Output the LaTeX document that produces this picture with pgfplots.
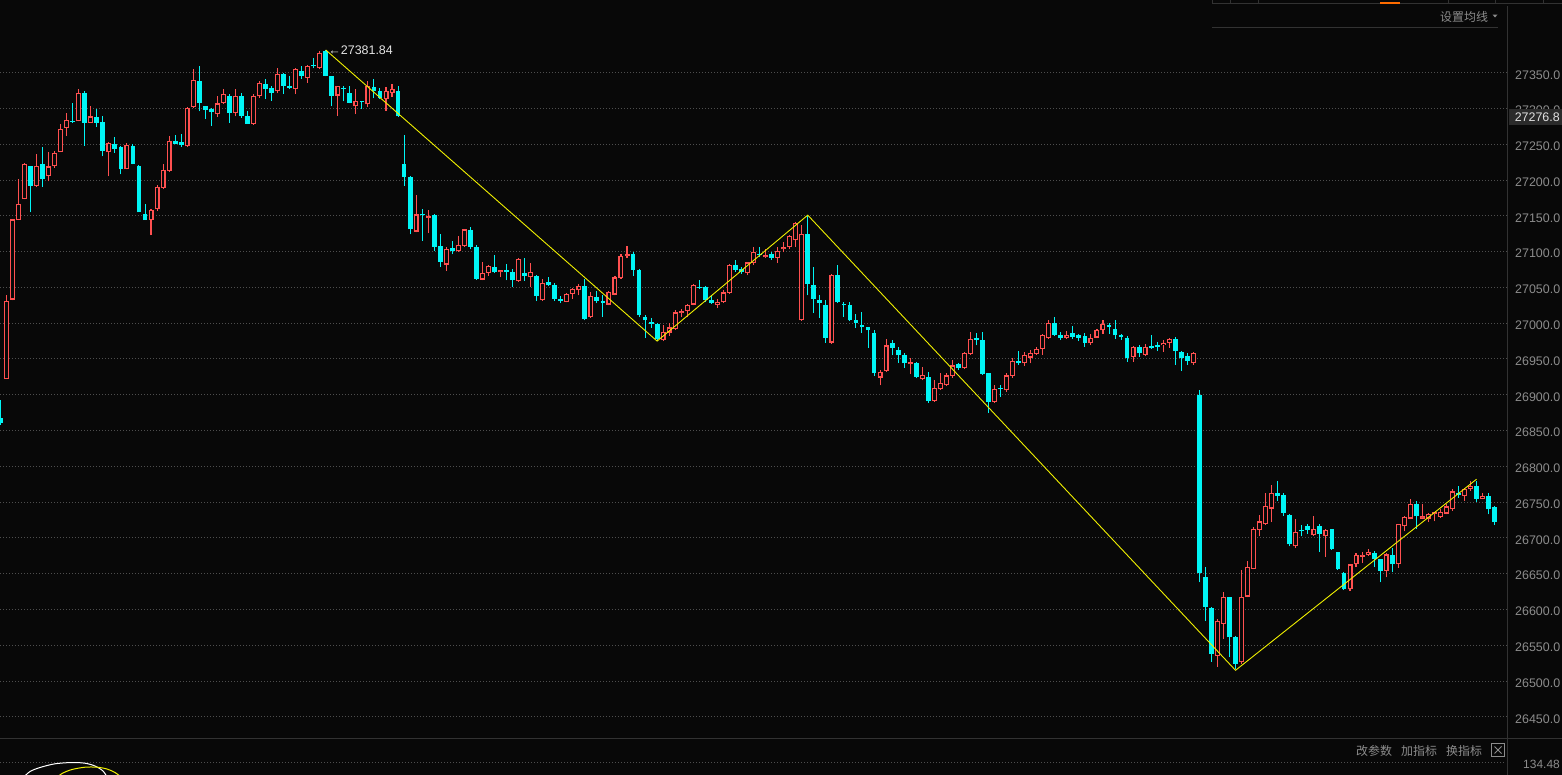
\documentclass[border=0pt]{standalone}
\usepackage{fontspec}
\setmainfont{Liberation Sans}
\newfontfamily\cjk{Noto Sans CJK SC}
\usepackage{pgfplots}
\pgfplotsset{compat=1.18}
\usepackage{pgfplotstable}

\definecolor{bg}{RGB}{8,8,8}
\definecolor{upc}{RGB}{255,80,80}
\definecolor{dnc}{RGB}{0,245,245}
\definecolor{gridc}{RGB}{78,78,78}
\definecolor{lblc}{RGB}{140,140,140}
\definecolor{sepc}{RGB}{50,50,50}
\definecolor{zig}{RGB}{240,240,0}

% red (up) candles: index open high low close
\pgfplotstableread{
i O H L C
1 26922 27040 26922 27031
2 27033 27145 27032 27145
3 27144 27201 27144 27167
4 27174 27224 27173 27223
6 27192 27237 27191 27220
8 27205 27239 27198 27219
9 27220 27240 27217 27238
10 27239 27279 27239 27272
11 27273 27294 27262 27284
13 27282 27327 27282 27322
15 27280 27303 27280 27289
18 27239 27253 27205 27252
21 27215 27252 27215 27249
25 27144 27159 27123 27158
26 27159 27193 27157 27191
27 27189 27223 27187 27214
28 27212 27261 27211 27255
31 27247 27302 27246 27301
32 27302 27355 27301 27340
36 27292 27317 27288 27307
37 27308 27327 27306 27320
39 27294 27327 27289 27317
42 27278 27320 27277 27318
43 27317 27338 27315 27336
46 27324 27356 27321 27348
49 27327 27356 27320 27355
51 27343 27361 27336 27360
53 27356 27380 27355 27378
56 27318 27332 27290 27331
59 27303 27327 27292 27311
61 27306 27339 27302 27331
64 27313 27330 27297 27324
65 27322 27334 27316 27327
69 27128 27179 27127 27152
71 27147 27158 27126 27150
74 27082 27106 27073 27104
76 27101 27122 27100 27109
77 27108 27132 27107 27131
80 27061 27086 27060 27070
81 27070 27081 27066 27080
83 27071 27074 27064 27073
86 27059 27091 27058 27090
88 27064 27084 27050 27072
90 27032 27062 27031 27056
94 27030 27042 27029 27041
95 27041 27049 27034 27048
96 27046 27055 27039 27052
98 27009 27044 27007 27038
101 27026 27045 27025 27044
102 27040 27066 27039 27064
103 27063 27096 27062 27094
104 27094 27108 27091 27096
110 26976 26998 26975 26988
111 26987 27000 26982 26994
112 26992 27018 26991 27015
113 27014 27020 27008 27016
114 27017 27027 27008 27025
115 27026 27055 27025 27054
119 27026 27034 27021 27030
120 27029 27046 27028 27043
121 27042 27083 27041 27081
124 27070 27086 27067 27085
125 27084 27107 27081 27100
127 27092 27104 27091 27095
129 27091 27106 27084 27101
130 27103 27113 27099 27105
131 27106 27123 27104 27122
132 27116 27141 27107 27140
133 27004 27137 27003 27125
138 26973 27069 26971 27067
146 26924 26935 26913 26932
147 26933 26978 26932 26969
151 26943 26951 26929 26946
153 26922 26939 26920 26928
155 26891 26921 26890 26909
156 26908 26930 26907 26916
157 26913 26931 26912 26927
158 26926 26949 26924 26941
160 26937 26960 26936 26959
161 26957 26988 26956 26978
165 26890 26914 26889 26908
167 26906 26930 26904 26927
168 26926 26952 26924 26947
170 26944 26960 26940 26956
171 26952 26963 26944 26958
172 26957 26967 26956 26964
173 26964 26985 26956 26984
174 26979 27005 26978 27000
177 26979 26989 26978 26984
181 26972 26985 26970 26980
182 26980 26992 26979 26991
183 26990 27005 26985 26999
188 26953 26968 26946 26967
190 26956 26971 26954 26967
193 26969 26977 26960 26973
194 26972 26980 26966 26978
198 26944 26960 26942 26958
202 26535 26587 26520 26584
203 26580 26625 26559 26617
206 26526 26655 26524 26618
207 26618 26668 26617 26660
208 26657 26715 26656 26713
209 26711 26732 26702 26723
210 26719 26763 26718 26745
211 26741 26774 26722 26763
215 26688 26727 26686 26708
218 26704 26730 26703 26713
220 26702 26713 26674 26711
224 26628 26664 26626 26663
225 26663 26679 26659 26676
226 26674 26680 26665 26676
227 26676 26684 26675 26680
230 26654 26679 26645 26677
232 26663 26720 26658 26719
233 26716 26730 26709 26729
234 26727 26754 26726 26748
236 26727 26747 26726 26730
237 26727 26735 26722 26734
238 26733 26736 26723 26735
239 26729 26741 26728 26736
240 26734 26747 26733 26744
241 26740 26768 26738 26765
243 26759 26770 26752 26768
244 26768 26780 26766 26773
246 26755 26763 26754 26759
}\up

% cyan (down) candles: index open high low close
\pgfplotstableread{
i O H L C
0 26868 26892 26858 26860
5 27219 27220 27155 27192
7 27223 27246 27190 27201
12 27282 27308 27280 27281
14 27321 27324 27248 27280
16 27288 27299 27274 27280
17 27281 27290 27233 27241
19 27250 27260 27238 27244
20 27246 27247 27208 27215
22 27248 27251 27222 27223
23 27220 27221 27155 27155
24 27153 27166 27144 27144
29 27255 27263 27250 27251
30 27253 27265 27246 27249
33 27339 27359 27296 27308
34 27303 27304 27285 27298
35 27299 27300 27276 27295
38 27318 27320 27280 27294
40 27317 27322 27287 27290
41 27289 27296 27279 27279
44 27334 27341 27313 27327
45 27328 27332 27311 27322
47 27348 27349 27320 27332
48 27331 27345 27327 27329
50 27353 27359 27341 27346
52 27361 27370 27356 27359
54 27380 27381.84 27345 27346
55 27345 27346 27303 27318
57 27329 27332 27310 27327
58 27321 27332 27307 27308
60 27311 27311 27299 27309
62 27330 27341 27314 27325
63 27324 27328 27313 27314
66 27325 27331 27288 27289
67 27222 27263 27192 27204
68 27204 27205 27124 27131
70 27153 27160 27115 27151
72 27151 27153 27101 27107
73 27108 27125 27079 27086
75 27105 27115 27096 27101
78 27130 27134 27103 27107
79 27106 27109 27061 27062
82 27079 27095 27070 27071
84 27074 27083 27060 27071
85 27071 27076 27050 27060
87 27070 27091 27059 27066
89 27066 27067 27031 27038
91 27058 27064 27052 27053
92 27053 27056 27031 27034
93 27034 27038 27028 27031
97 27052 27062 27004 27006
99 27037 27045 27028 27031
100 27031 27040 27009 27028
105 27096 27099 27066 27075
106 27075 27076 27008 27011
107 27009 27011 26979 27004
108 27001 27007 26993 26999
109 26999 27000 26975 26978
116 27051 27060 27048 27049
117 27051 27052 27029 27033
118 27032 27040 27027 27028
122 27081 27088 27072 27075
123 27076 27079 27069 27071
126 27097 27107 27092 27095
128 27096 27100 27089 27091
134 27125 27151 27039 27055
135 27054 27078 27014 27034
136 27033 27039 27007 27028
137 27026 27032 26973 26980
139 27068 27081 27028 27029
140 27026 27029 27009 27025
141 27025 27030 27003 27004
142 27005 27013 26993 27000
143 26998 27016 26987 26994
144 26994 26995 26966 26990
145 26987 26991 26926 26930
148 26972 26976 26955 26966
149 26962 26967 26945 26955
150 26956 26959 26938 26944
152 26945 26946 26923 26925
154 26925 26932 26889 26891
159 26943 26945 26935 26938
162 26979 26987 26969 26977
163 26977 26988 26928 26929
164 26930 26931 26875 26890
166 26910 26914 26897 26908
169 26947 26961 26942 26944
175 27000 27009 26982 26984
176 26983 26988 26977 26980
178 26987 26996 26978 26981
179 26983 26985 26975 26980
180 26982 26987 26967 26973
184 26998 27000 26985 26994
185 26992 27005 26978 26983
186 26984 26985 26977 26981
187 26980 26982 26946 26952
189 26967 26970 26953 26958
191 26968 26984 26964 26966
192 26969 26974 26961 26967
195 26978 26981 26942 26961
196 26960 26961 26933 26951
197 26954 26958 26942 26947
199 26900 26906 26638 26651
200 26646 26659 26584 26604
201 26602 26603 26527 26538
204 26617 26618 26533 26561
205 26561 26563 26517 26524
212 26763 26780 26752 26759
213 26760 26763 26731 26735
214 26732 26733 26688 26691
216 26711 26718 26702 26709
217 26716 26719 26706 26711
219 26716 26719 26680 26706
221 26712 26713 26683 26684
222 26680 26681 26655 26656
223 26651 26652 26627 26628
228 26679 26682 26659 26670
229 26670 26671 26638 26654
231 26676 26686 26652 26663
235 26747 26751 26713 26730
242 26763 26772 26756 26760
245 26773 26779 26750 26755
247 26759 26763 26733 26740
248 26743 26744 26718 26722
}\dn

\begin{document}
\begin{tikzpicture}
\fill[bg] (0,0) rectangle (1562bp,-775bp);
\begin{axis}[
  name=main, at={(0,0)}, anchor=north west,
  scale only axis, width=1507bp, height=775bp,
  xmin=-0.0664, xmax=250.06, ymin=26368.7, ymax=27451.6,
  axis line style={draw=none},
  xtick=\empty,
  ytick={26450,26500,26550,26600,26650,26700,26750,26800,26850,26900,26950,27000,27050,27100,27150,27200,27250,27300,27350},
  scaled y ticks=false,
  major tick length=0pt,
  ymajorgrids,
  grid style={gridc, line width=1bp, dash pattern=on 1bp off 2bp},
  yticklabel pos=right,
  yticklabel style={font=\fontsize{12.5}{14}\selectfont, text=lblc, inner sep=0pt, xshift=8bp, yshift=-2bp,
    /pgf/number format/.cd, fixed, fixed zerofill, precision=1, 1000 sep={}, assume math mode=true},
  clip=true,
]
% cyan wicks
\addplot[draw=none, forget plot, error bars/.cd, y dir=plus, y explicit, error mark=none,
  error bar style={draw=dnc, line width=1bp}]
  table[x=i, y=L, y error expr={\thisrow{H}-\thisrow{L}}] {\dn};
% cyan bodies
\addplot[draw=none, forget plot, error bars/.cd, y dir=plus, y explicit, error mark=none,
  error bar style={draw=dnc, line width=4.8bp}]
  table[x=i, y=C, y error expr={max(\thisrow{O}-\thisrow{C},1.4)}] {\dn};
% red wicks
\addplot[draw=none, forget plot, error bars/.cd, y dir=plus, y explicit, error mark=none,
  error bar style={draw=upc, line width=1.1bp}]
  table[x=i, y=L, y error expr={\thisrow{H}-\thisrow{L}}] {\up};
% red bodies (outline)
\addplot[draw=none, forget plot, error bars/.cd, y dir=plus, y explicit, error mark=none,
  error bar style={draw=upc, line width=5bp}]
  table[x=i, y=O, y error expr={max(\thisrow{C}-\thisrow{O},2.8)}] {\up};
% red bodies (hollow inside)
\addplot[draw=none, forget plot, error bars/.cd, y dir=plus, y explicit, error mark=none,
  error bar style={draw=bg, line width=2.6bp}]
  table[x=i, y expr={\thisrow{O}+1.6}, y error expr={max(\thisrow{C}-\thisrow{O}-3.2,0.01)}] {\up};
% zigzag
\addplot[zig, line width=0.9bp, forget plot] coordinates {
  (54,27381.84) (109,26975) (134,27151) (205,26515) (245,26782)};
\node[anchor=west, inner sep=0pt, text=white!90!black, font=\fontsize{12.5}{14}\selectfont, yshift=-0.5bp]
  at (axis cs:54,27381.84) [xshift=2.5bp] {←27381.84};
\end{axis}
\begin{scope}[x=1bp, y=-1bp]
  % top tabs
  \draw[sepc, line width=1bp] (1212,3.5) -- (1562,3.5);
  \foreach \xx in {1212.5,1230.5,1258.5,1448.5,1495.5,1543.5} \draw[sepc, line width=1bp] (\xx,0) -- (\xx,3.5);
  \fill[orange!85!red] (1380,2) rectangle (1400,4);
  % header
  \node[anchor=west, inner sep=0pt, text=lblc, font=\cjk\fontsize{12}{14}\selectfont] at (1440,16.5) {设置均线};
  \fill[lblc] (1492.5,14.5) -- (1497.5,14.5) -- (1495,17.5) -- cycle;
  \draw[sepc, line width=1bp] (1212,27.5) -- (1498,27.5);
  % separators
  \draw[sepc, line width=1bp] (1507.5,6) -- (1507.5,775);
  \draw[sepc, line width=1bp] (0,738.5) -- (1562,738.5);
  % current value box
  \fill[black!83!white] (1509,108.5) rectangle (1562,124.5);
  \node[anchor=east, inner sep=0pt, text=white!88!black, font=\fontsize{12.5}{14}\selectfont] at (1560,117) {27276.8};
  % bottom panel
  \draw[gridc, line width=1bp, dash pattern=on 1bp off 2bp] (0,762.5) -- (1505,762.5);
  \node[anchor=west, inner sep=0pt, text=lblc, font=\cjk\fontsize{12}{14}\selectfont] at (1356,750.5) {改参数};
  \node[anchor=west, inner sep=0pt, text=lblc, font=\cjk\fontsize{12}{14}\selectfont] at (1401,750.5) {加指标};
  \node[anchor=west, inner sep=0pt, text=lblc, font=\cjk\fontsize{12}{14}\selectfont] at (1446,750.5) {换指标};
  \draw[lblc, line width=0.8bp] (1491.5,743.5) rectangle (1504.5,756.5);
  \draw[lblc, line width=0.8bp] (1494.5,746.5) -- (1501.5,753.5) (1494.5,753.5) -- (1501.5,746.5);
  \node[anchor=east, inner sep=0pt, text=lblc, font=\fontsize{12}{14}\selectfont] at (1560,764) {134.48};
  % indicator curves peeking at the bottom
  \draw[white, line width=1bp] plot[smooth] coordinates {(24,777) (30,771.5) (40,767.5) (55,763.8) (72,762.5) (85,763.2) (95,766) (103,771) (107,777)};
  \draw[zig, line width=1bp] plot[smooth] coordinates {(57,777) (63,773) (72,769.5) (85,767.2) (97,767.2) (107,769) (115,772.5) (121,777)};
\end{scope}
\pgfresetboundingbox
\path[use as bounding box] (0,0) rectangle (1562bp,-775bp);
\end{tikzpicture}
\end{document}
